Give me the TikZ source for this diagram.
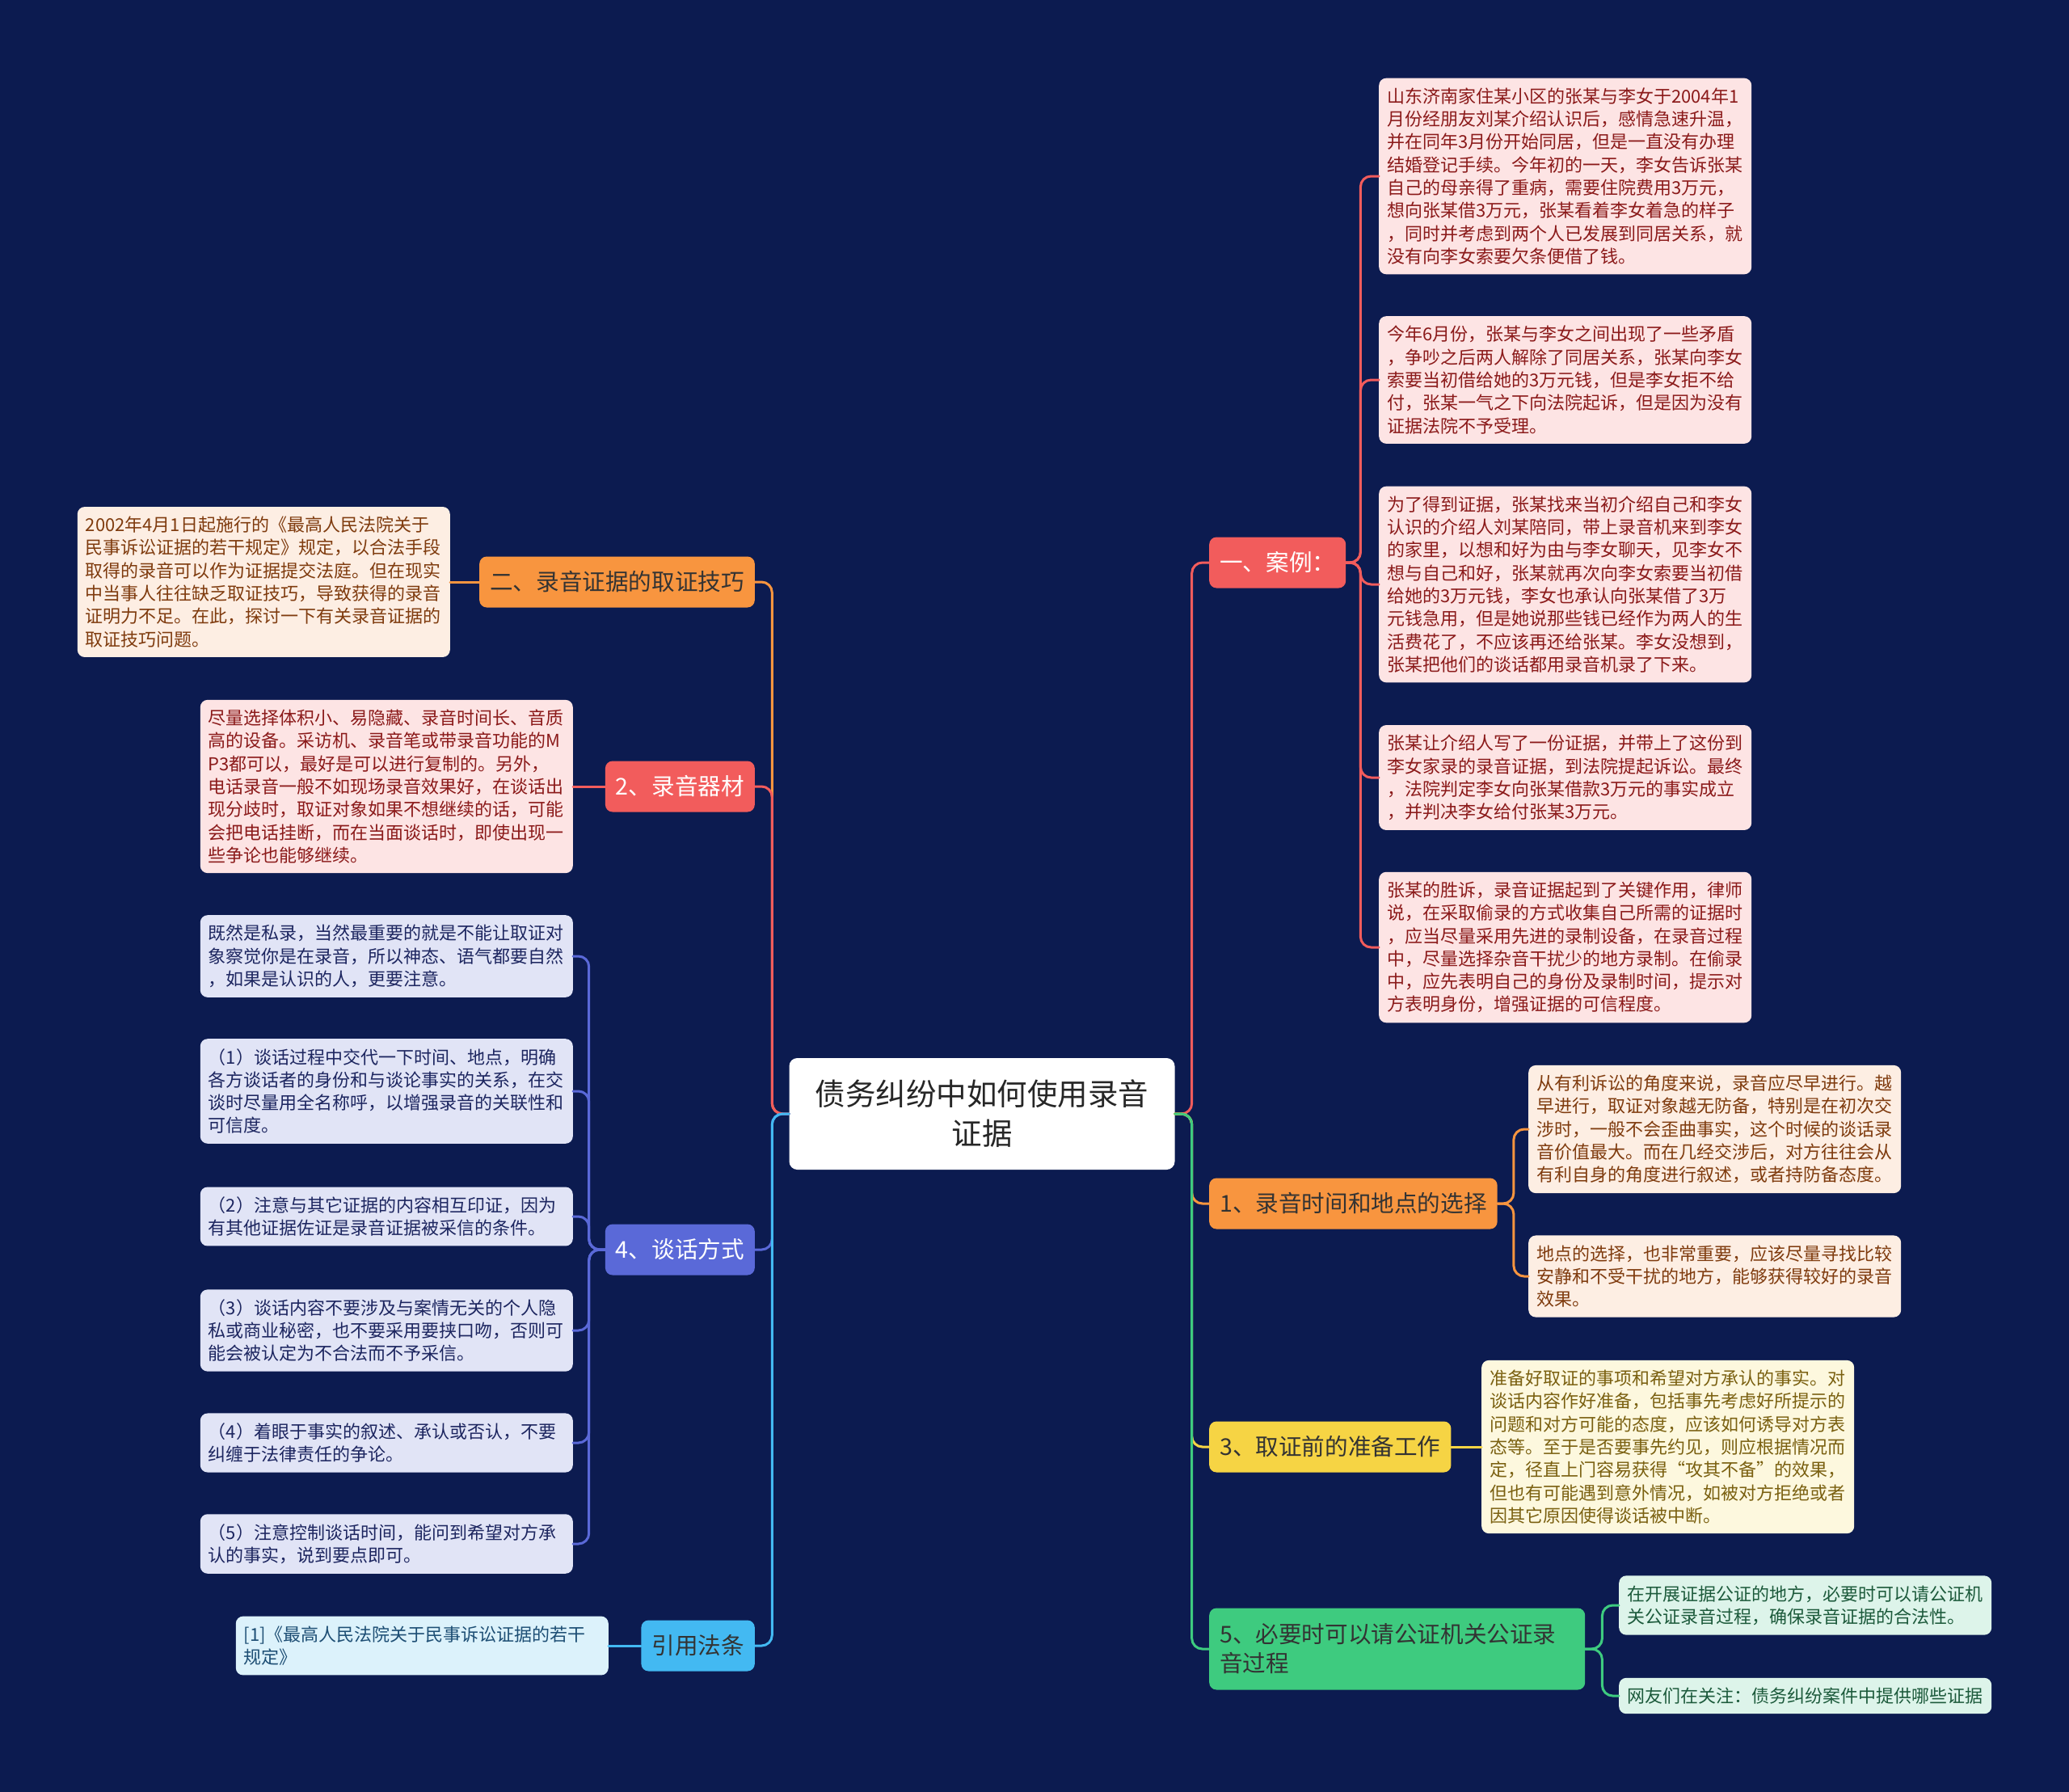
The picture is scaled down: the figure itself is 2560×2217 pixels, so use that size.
\documentclass[tikz,border=0pt]{standalone}
\usepackage{fontspec}
\setmainfont{Noto Sans CJK SC}
\usetikzlibrary{positioning}

\definecolor{bgnavy}{HTML}{0C1B50}
\definecolor{cred}{HTML}{F25C5C}
\definecolor{corange}{HTML}{F8953F}
\definecolor{cyellow}{HTML}{F6D444}
\definecolor{cgreen}{HTML}{3ECB7F}
\definecolor{cblue}{HTML}{5A69D8}
\definecolor{ccyan}{HTML}{43B9F2}
% leaf fills and texts
\definecolor{fpink}{HTML}{FDE4E4}
\definecolor{tpink}{HTML}{8B1A1A}
\definecolor{fpeach}{HTML}{FDEEE3}
\definecolor{tpeach}{HTML}{7F3B0E}
\definecolor{fcream}{HTML}{FDF8DE}
\definecolor{tcream}{HTML}{7A6010}
\definecolor{flav}{HTML}{E1E4F6}
\definecolor{tlav}{HTML}{1D2660}
\definecolor{fmint}{HTML}{DDF4EA}
\definecolor{tmint}{HTML}{1C5A3B}
\definecolor{fsky}{HTML}{DCF2FB}
\definecolor{tsky}{HTML}{1D4E74}

\begin{document}
\begin{tikzpicture}[
  x=1pt, y=-1pt, line cap=round, line join=round,
  topic/.style={fill=white, rounded corners=10pt, minimum width=477pt,
                minimum height=138pt, align=center, text=black!85,
                font=\fontsize{37.5pt}{49pt}\selectfont},
  branch/.style={rounded corners=9pt, minimum height=63pt, inner xsep=13pt,
                 align=left, font=\fontsize{28.6pt}{36pt}\selectfont},
  leaf/.style={rounded corners=9pt, text width=441pt, inner xsep=10pt,
               inner ysep=12pt, align=left,
               font=\fontsize{22pt}{28.3pt}\selectfont},
  link/.style={line width=3pt, rounded corners=13pt}
]

  % ── Background ────────────────────────────────────────────────────────────
  \fill[bgnavy] (0,0) rectangle (2560,2217);
  \useasboundingbox (0,0) rectangle (2560,2217);

  % ── Centre topic ──────────────────────────────────────────────────────────
  \node[topic] (root) at (1215,1378) {债务纠纷中如何使用录音\\证据};

  % ── Right branches ────────────────────────────────────────────────────────
  \node[branch, fill=cred, text=white, anchor=west]     (case)   at (1496,696)  {一、案例：};
  \node[branch, fill=corange, text=black!80, anchor=west] (timing) at (1496,1489) {1、录音时间和地点的选择};
  \node[branch, fill=cyellow, text=black!80, anchor=west] (prep)   at (1496,1790) {3、取证前的准备工作};
  \node[branch, fill=cgreen, text=black!80, anchor=west, minimum height=101pt,
        text width=439pt]
      (notary) at (1496,2040) {5、必要时可以请公证机关公证录\\音过程};

  % ── Left branches ─────────────────────────────────────────────────────────
  \node[branch, fill=corange, text=black!80, anchor=east] (skill)  at (934,720)  {二、录音证据的取证技巧};
  \node[branch, fill=cred, text=white, anchor=east]     (device) at (934,973)  {2、录音器材};
  \node[branch, fill=cblue, text=white, anchor=east]    (talk)   at (934,1546) {4、谈话方式};
  \node[branch, fill=ccyan, text=black!80, anchor=east]   (law)    at (934,2036) {引用法条};

  % ── Case leaves ───────────────────────────────────────────────────────────
  \node[leaf, fill=fpink, text=tpink, anchor=west] (caseA) at (1706,218)
    {山东济南家住某小区的张某与李女于2004年1\\月份经朋友刘某介绍认识后，感情急速升温，\\并在同年3月份开始同居，但是一直没有办理\\结婚登记手续。今年初的一天，李女告诉张某\\自己的母亲得了重病，需要住院费用3万元，\\想向张某借3万元，张某看着李女着急的样子\\，同时并考虑到两个人已发展到同居关系，就\\没有向李女索要欠条便借了钱。};
  \node[leaf, fill=fpink, text=tpink, anchor=west] (caseB) at (1706,470)
    {今年6月份，张某与李女之间出现了一些矛盾\\，争吵之后两人解除了同居关系，张某向李女\\索要当初借给她的3万元钱，但是李女拒不给\\付，张某一气之下向法院起诉，但是因为没有\\证据法院不予受理。};
  \node[leaf, fill=fpink, text=tpink, anchor=west] (caseC) at (1706,723)
    {为了得到证据，张某找来当初介绍自己和李女\\认识的介绍人刘某陪同，带上录音机来到李女\\的家里，以想和好为由与李女聊天，见李女不\\想与自己和好，张某就再次向李女索要当初借\\给她的3万元钱，李女也承认向张某借了3万\\元钱急用，但是她说那些钱已经作为两人的生\\活费花了，不应该再还给张某。李女没想到，\\张某把他们的谈话都用录音机录了下来。};
  \node[leaf, fill=fpink, text=tpink, anchor=west] (caseD) at (1706,962)
    {张某让介绍人写了一份证据，并带上了这份到\\李女家录的录音证据，到法院提起诉讼。最终\\，法院判定李女向张某借款3万元的事实成立\\，并判决李女给付张某3万元。};
  \node[leaf, fill=fpink, text=tpink, anchor=west] (caseE) at (1706,1172)
    {张某的胜诉，录音证据起到了关键作用，律师\\说，在采取偷录的方式收集自己所需的证据时\\，应当尽量采用先进的录制设备，在录音过程\\中，尽量选择杂音干扰少的地方录制。在偷录\\中，应先表明自己的身份及录制时间，提示对\\方表明身份，增强证据的可信程度。};

  % ── Timing / preparation / notary leaves ──────────────────────────────────
  \node[leaf, fill=fpeach, text=tpeach, anchor=west] (timingA) at (1891,1397)
    {从有利诉讼的角度来说，录音应尽早进行。越\\早进行，取证对象越无防备，特别是在初次交\\涉时，一般不会歪曲事实，这个时候的谈话录\\音价值最大。而在几经交涉后，对方往往会从\\有利自身的角度进行叙述，或者持防备态度。};
  \node[leaf, fill=fpeach, text=tpeach, anchor=west] (timingB) at (1891,1579)
    {地点的选择，也非常重要，应该尽量寻找比较\\安静和不受干扰的地方，能够获得较好的录音\\效果。};
  \node[leaf, fill=fcream, text=tcream, anchor=west] (prepA) at (1833,1790)
    {准备好取证的事项和希望对方承认的事实。对\\谈话内容作好准备，包括事先考虑好所提示的\\问题和对方可能的态度，应该如何诱导对方表\\态等。至于是否要事先约见，则应根据情况而\\定，径直上门容易获得“攻其不备”的效果，\\但也有可能遇到意外情况，如被对方拒绝或者\\因其它原因使得谈话被中断。};
  \node[leaf, fill=fmint, text=tmint, anchor=west] (notaryA) at (2003,1986)
    {在开展证据公证的地方，必要时可以请公证机\\关公证录音过程，确保录音证据的合法性。};
  \node[leaf, fill=fmint, text=tmint, anchor=west] (notaryB) at (2003,2098)
    {网友们在关注：债务纠纷案件中提供哪些证据};

  % ── Left leaves ───────────────────────────────────────────────────────────
  \node[leaf, fill=fpeach, text=tpeach, anchor=east] (skillA) at (557,720)
    {2002年4月1日起施行的《最高人民法院关于\\民事诉讼证据的若干规定》规定，以合法手段\\取得的录音可以作为证据提交法庭。但在现实\\中当事人往往缺乏取证技巧，导致获得的录音\\证明力不足。在此，探讨一下有关录音证据的\\取证技巧问题。};
  \node[leaf, fill=fpink, text=tpink, anchor=east] (deviceA) at (709,973)
    {尽量选择体积小、易隐藏、录音时间长、音质\\高的设备。采访机、录音笔或带录音功能的M\\P3都可以，最好是可以进行复制的。另外，\\电话录音一般不如现场录音效果好，在谈话出\\现分歧时，取证对象如果不想继续的话，可能\\会把电话挂断，而在当面谈话时，即使出现一\\些争论也能够继续。};
  \node[leaf, fill=flav, text=tlav, anchor=east] (talkA) at (709,1183)
    {既然是私录，当然最重要的就是不能让取证对\\象察觉你是在录音，所以神态、语气都要自然\\，如果是认识的人，更要注意。};
  \node[leaf, fill=flav, text=tlav, anchor=east] (talkB) at (709,1350)
    {（1）谈话过程中交代一下时间、地点，明确\\各方谈话者的身份和与谈论事实的关系，在交\\谈时尽量用全名称呼，以增强录音的关联性和\\可信度。};
  \node[leaf, fill=flav, text=tlav, anchor=east] (talkC) at (709,1505)
    {（2）注意与其它证据的内容相互印证，因为\\有其他证据佐证是录音证据被采信的条件。};
  \node[leaf, fill=flav, text=tlav, anchor=east] (talkD) at (709,1646)
    {（3）谈话内容不要涉及与案情无关的个人隐\\私或商业秘密，也不要采用要挟口吻，否则可\\能会被认定为不合法而不予采信。};
  \node[leaf, fill=flav, text=tlav, anchor=east] (talkE) at (709,1785)
    {（4）着眼于事实的叙述、承认或否认，不要\\纠缠于法律责任的争论。};
  \node[leaf, fill=flav, text=tlav, anchor=east] (talkF) at (709,1910)
    {（5）注意控制谈话时间，能问到希望对方承\\认的事实，说到要点即可。};
  \node[leaf, fill=fsky, text=tsky, anchor=east] (lawA) at (753,2036)
    {[1]《最高人民法院关于民事诉讼证据的若干\\规定》};

  % ── Connectors: centre to branches ────────────────────────────────────────
  \draw[link, cred]    (root.east) -- ++(21,0) |- (case.west);
  \draw[link, corange] (root.east) -- ++(21,0) |- (timing.west);
  \draw[link, cyellow] (root.east) -- ++(21,0) |- (prep.west);
  \draw[link, cgreen]  (root.east) -- ++(21,0) |- (notary.west);
  \draw[link, corange] (root.west) -- ++(-21,0) |- (skill.east);
  \draw[link, cred]    (root.west) -- ++(-21,0) |- (device.east);
  \draw[link, cblue]   (root.west) -- ++(-21,0) |- (talk.east);
  \draw[link, ccyan]   (root.west) -- ++(-21,0) |- (law.east);

  % ── Connectors: branches to leaves ────────────────────────────────────────
  \foreach \n in {caseA,caseB,caseC,caseD,caseE}
    \draw[link, cred] (case.east) -- ++(18,0) |- (\n.west);
  \foreach \n in {timingA,timingB}
    \draw[link, corange] (timing.east) -- ++(20,0) |- (\n.west);
  \foreach \n in {notaryA,notaryB}
    \draw[link, cgreen] (notary.east) -- ++(21,0) |- (\n.west);
  \foreach \n in {talkA,talkB,talkC,talkD,talkE,talkF}
    \draw[link, cblue] (talk.west) -- ++(-20,0) |- (\n.east);
  \draw[link, cyellow] (prep.east) -- (prepA.west);
  \draw[link, corange] (skill.west) -- (skillA.east);
  \draw[link, cred]    (device.west) -- (deviceA.east);
  \draw[link, ccyan]   (law.west) -- (lawA.east);

\end{tikzpicture}
\end{document}
